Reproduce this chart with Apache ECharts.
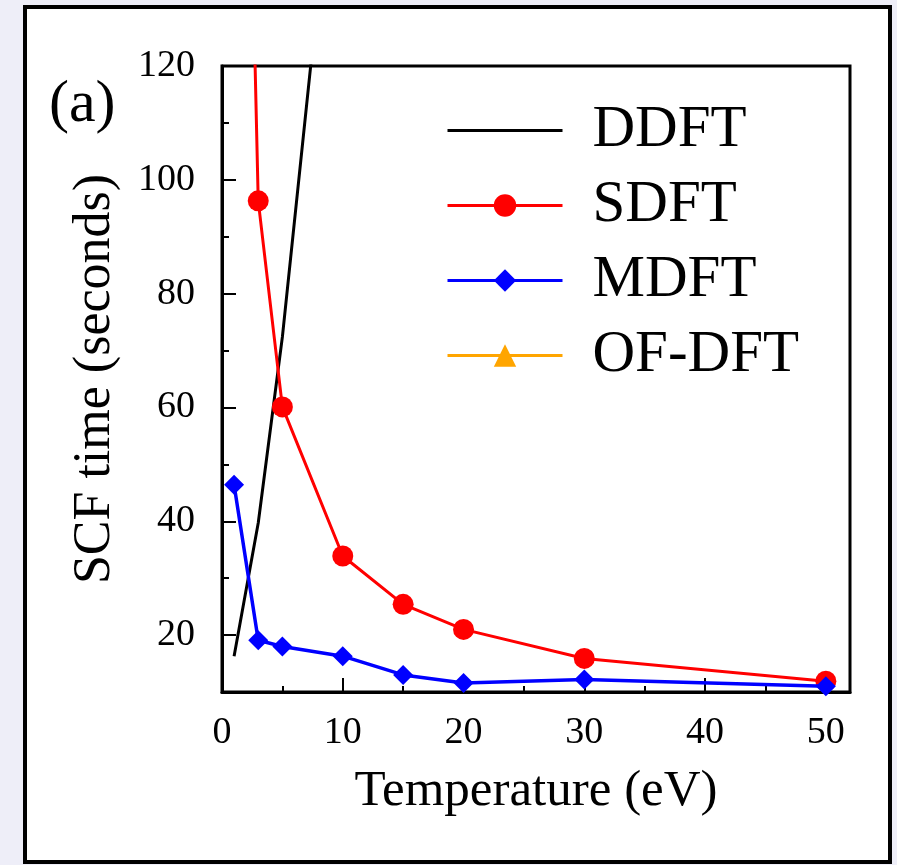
<!DOCTYPE html>
<html>
<head>
<meta charset="utf-8">
<script src="https://cdn.jsdelivr.net/npm/echarts@6/dist/echarts.min.js"></script>
<style>
  html, body { margin: 0; padding: 0; background: #eeeef8; }
  #chart { width: 897px; height: 865px; }
</style>
</head>
<body>
<div id="chart"></div>
<script>
// SCF time versus temperature for four DFT flavours
const xMajorTicks = [0, 10, 20, 30, 40, 50];
const xMinorTicks = [5, 15, 25, 35, 45];
const yMajorTicks = [20, 40, 60, 80, 100, 120];
const yMinorTicks = [30, 50, 70, 90, 110];

// [temperature (eV), SCF time (s)]
const ddft = [[1, 16.3], [3, 39.7], [5, 72.4], [10, 174]];
const sdft = [[1, 280], [3, 96.3], [5, 60.1], [10, 33.9], [15, 25.4], [20, 21.0], [30, 15.9], [50, 11.9]];
const mdft = [[1, 46.4], [3, 19.1], [5, 18.0], [10, 16.3], [15, 13.0], [20, 11.6], [30, 12.2], [50, 11.0]];
const ofdft = [];

const serif = 'Liberation Serif';
const chart = echarts.init(document.getElementById('chart'), null, { renderer: 'canvas' });

chart.setOption({
  backgroundColor: '#eeeef8',
  animation: false,
  graphic: [{
    type: 'rect',
    z: -100,
    shape: { x: 25, y: 7, width: 865, height: 855 },
    style: { fill: '#ffffff', stroke: '#000000', lineWidth: 4 }
  }],
  title: {
    text: '(a)',
    left: 44,
    top: 70,
    textStyle: { fontFamily: serif, fontWeight: 'normal', fontSize: 60, color: '#000' }
  },
  grid: {
    left: 222, top: 66, right: 47, bottom: 173,
    show: true, borderColor: '#000', borderWidth: 3, backgroundColor: '#fff'
  },
  legend: {
    orient: 'vertical',
    left: 441,
    top: 96,
    itemWidth: 115,
    itemHeight: 28,
    itemGap: 16,
    lineStyle: { width: 3 },
    data: [
      { name: 'DDFT', itemStyle: { color: 'rgba(0,0,0,0)', borderWidth: 0 } },
      'SDFT', 'MDFT', 'OF-DFT'
    ],
    textStyle: { fontFamily: serif, fontSize: 59, lineHeight: 58, color: '#000', padding: [0, 0, 0, 25] }
  },
  xAxis: [{
    type: 'value', min: 0, max: 52, position: 'bottom',
    name: 'Temperature (eV)', nameLocation: 'middle', nameGap: 74,
    nameTextStyle: { fontFamily: serif, fontSize: 51, color: '#000' },
    axisLine: { lineStyle: { color: '#000', width: 3 } },
    axisTick: { inside: true, length: 14, customValues: xMajorTicks, lineStyle: { color: '#000', width: 2 } },
    axisLabel: { customValues: xMajorTicks, margin: 22, fontFamily: serif, fontSize: 38, color: '#000' },
    splitLine: { show: false }
  }, {
    type: 'value', min: 0, max: 52, position: 'bottom',
    axisLine: { show: false },
    axisTick: { inside: true, length: 6, customValues: xMinorTicks, lineStyle: { color: '#000', width: 2 } },
    axisLabel: { show: false },
    splitLine: { show: false }
  }],
  yAxis: [{
    type: 'value', min: 10, max: 120, position: 'left',
    name: 'SCF time (seconds)', nameLocation: 'middle', nameGap: 101,
    nameTextStyle: { fontFamily: serif, fontSize: 52, color: '#000' },
    axisLine: { lineStyle: { color: '#000', width: 3 } },
    axisTick: { inside: true, length: 14, customValues: yMajorTicks, lineStyle: { color: '#000', width: 2 } },
    axisLabel: { customValues: yMajorTicks, margin: 27, fontFamily: serif, fontSize: 38, color: '#000' },
    splitLine: { show: false }
  }, {
    type: 'value', min: 10, max: 120, position: 'left',
    axisLine: { show: false },
    axisTick: { inside: true, length: 7, customValues: yMinorTicks, lineStyle: { color: '#000', width: 2 } },
    axisLabel: { show: false },
    splitLine: { show: false }
  }],
  series: [{
    name: 'DDFT', type: 'line', data: ddft, symbol: 'none',
    lineStyle: { color: '#000', width: 3 }, itemStyle: { color: '#000' }, clip: true, z: 3
  }, {
    name: 'SDFT', type: 'line', data: sdft, symbol: 'circle', symbolSize: 21,
    lineStyle: { color: '#ff0000', width: 3 }, itemStyle: { color: '#ff0000' }, clip: true, z: 4
  }, {
    name: 'MDFT', type: 'line', data: mdft, symbol: 'diamond', symbolSize: 20,
    lineStyle: { color: '#0000ff', width: 3.5 }, itemStyle: { color: '#0000ff' }, clip: true, z: 5
  }, {
    name: 'OF-DFT', type: 'line', data: ofdft, symbol: 'triangle', symbolSize: 20,
    lineStyle: { color: '#ffa500', width: 3 }, itemStyle: { color: '#ffa500' }, clip: true, z: 6
  }]
});
</script>
</body>
</html>
